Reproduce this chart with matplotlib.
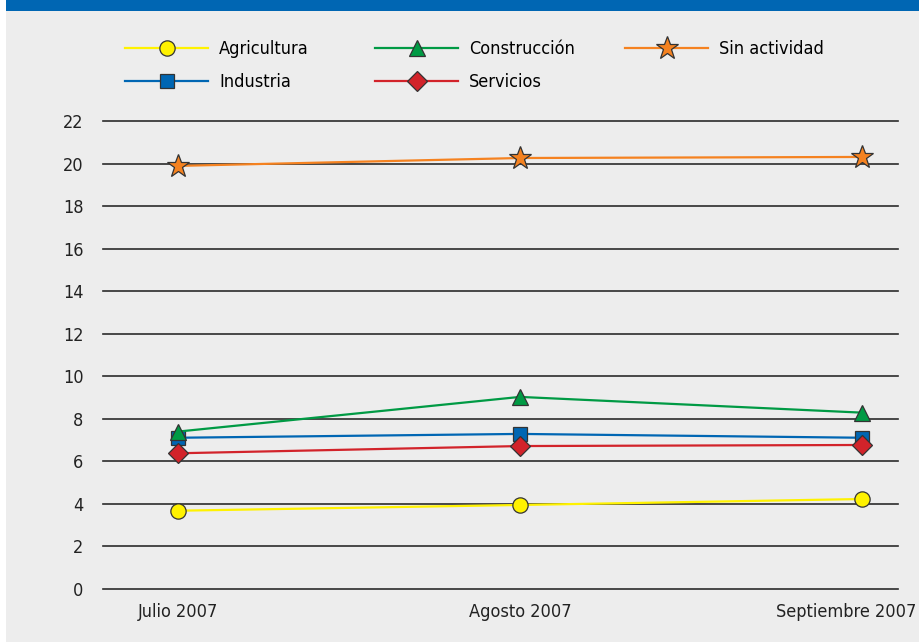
import matplotlib
matplotlib.use('Agg')
import matplotlib.pyplot as plt
from matplotlib.patches import Rectangle
from matplotlib.transforms import ScaledTranslation

# Datos
meses = ['Julio 2007', 'Agosto 2007', 'Septiembre 2007']
agricultura = [3.68, 3.95, 4.23]
industria = [7.11, 7.29, 7.11]
construccion = [7.40, 9.03, 8.29]
servicios = [6.38, 6.72, 6.77]
sin_actividad = [19.89, 20.26, 20.31]
y_ticks = list(range(0, 23, 2))

plt.rcParams['font.family'] = ['DejaVu Sans']
plt.rcParams['font.stretch'] = 'condensed'

fondo = '#EDEDED'
fig = plt.figure(figsize=(9.2, 6.42), dpi=100)
fig.patch.set_facecolor('white')

# Fondo gris y barra azul superior
fig.patches.append(Rectangle((6 / 920, 0), 1, 1 - 11 / 642, transform=fig.transFigure,
                             facecolor=fondo, edgecolor='none', zorder=-5))
fig.patches.append(Rectangle((6 / 920, 1 - 11 / 642), 1, 11 / 642, transform=fig.transFigure,
                             facecolor='#0066B3', edgecolor='none', zorder=-5))

# Ejes: y=0 en 589px, y=22 en 121px
ax = fig.add_axes([103 / 920, (642 - 589) / 642, 795 / 920, 468 / 642])
ax.set_zorder(2)
ax.set_facecolor('none')
x = list(range(len(meses)))

ax.set_ylim(0, 22)
ax.set_xlim(-0.219, 2.105)
for v in y_ticks:
    ax.axhline(v, color='#2b2b2b', linewidth=1.2, clip_on=False, zorder=1)

series = [
    ('Agricultura', agricultura, '#FFF200', 'o', 11),
    ('Industria', industria, '#0066B3', 's', 10),
    ('Construcción', construccion, '#009A44', '^', 12),
    ('Servicios', servicios, '#D2232A', 'D', 10),
    ('Sin actividad', sin_actividad, '#F58220', '*', 17),
]
handles = []
for nombre, valores, color, marcador, tam in series:
    h, = ax.plot(x, valores, color=color, linewidth=1.6, marker=marcador, markersize=tam,
                 markerfacecolor=color, markeredgecolor='#333333', markeredgewidth=0.9,
                 label=nombre, clip_on=False, zorder=3)
    handles.append(h)

ax.set_yticks(y_ticks)
ax.set_xticks(x)
ax.set_xticklabels(meses)
ax.tick_params(axis='y', length=0, pad=14, labelsize=13, colors='#222222')
ax.tick_params(axis='x', length=0, pad=10, labelsize=13, colors='#222222')
for s in ax.spines.values():
    s.set_visible(False)

# El último rótulo queda dentro del borde derecho
ultimo = ax.get_xticklabels()[-1]
ultimo.set_transform(ultimo.get_transform() + ScaledTranslation(-0.16, 0, fig.dpi_scale_trans))

# Leyenda en tres columnas colocadas a mano
columnas = [(handles[0:2], 125), (handles[2:4], 375), (handles[4:5], 625)]
for hs, x0 in columnas:
    leg = fig.legend(handles=hs, loc='upper left', bbox_to_anchor=(x0 / 920, 1 - 40 / 642),
                     frameon=False, fontsize=13, handlelength=4.6, handletextpad=0.6,
                     labelspacing=0.85, borderaxespad=0, borderpad=0)
    leg.set_zorder(3)

fig.savefig('out.png', dpi=100, facecolor=fig.get_facecolor())
